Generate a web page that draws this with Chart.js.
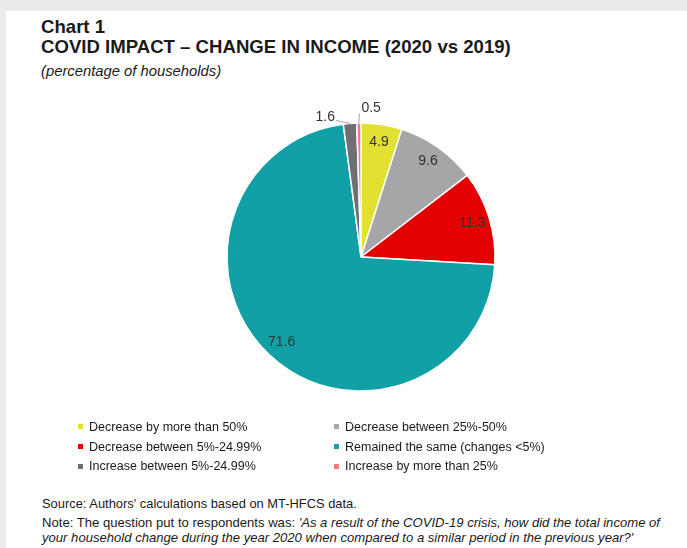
<!DOCTYPE html>
<html>
<head>
<meta charset="utf-8">
<script src="https://cdn.jsdelivr.net/npm/chart.js@4/dist/chart.umd.min.js"></script>
<style>
  html, body { margin: 0; padding: 0; }
  body { width: 687px; height: 548px; background: #ebebeb; position: relative; overflow: hidden;
         font-family: "Liberation Sans", Arial, sans-serif; color: #1a1a1a; }
  #panel { position: absolute; left: 6px; top: 11px; width: 700px; height: 560px; background: #fff; }
  .abs { position: absolute; white-space: nowrap; }
  #t1 { left: 41px; top: 17px; font-size: 18.6px; font-weight: bold; line-height: 20px; }
  #t2 { left: 41px; top: 63px; font-size: 14.8px; font-style: italic; }
  #pie { position: absolute; left: 181px; top: 77px; }
  #legend { position: absolute; left: 77px; top: 417px; display: grid;
            grid-template-columns: 256px 260px; grid-auto-rows: 19.8px; font-size: 12.5px; }
  #legend .item { display: flex; align-items: center; }
  #legend .box { width: 5px; height: 5px; margin: 0 6px 0 1px; flex: none; }
  #source { left: 42px; top: 496px; font-size: 12.9px; }
  #note { left: 42px; top: 515px; font-size: 13.1px; line-height: 15.3px; }
</style>
</head>
<body>
<div id="panel"></div>
<div id="t1" class="abs">Chart 1<br>COVID IMPACT &#8211; CHANGE IN INCOME (2020 vs 2019)</div>
<div id="t2" class="abs">(percentage of households)</div>
<canvas id="pie" width="360" height="360"></canvas>
<div id="legend"></div>
<div id="source" class="abs">Source: Authors' calculations based on MT-HFCS data.</div>
<div id="note" class="abs">Note: The question put to respondents was: <i>'As a result of the COVID-19 crisis, how did the total income of<br>your household change during the year 2020 when compared to a similar period in the previous year?'</i></div>
<script>
// data
const categories = [
    'Decrease by more than 50%',
    'Decrease between 25%-50%',
    'Decrease between 5%-24.99%',
    'Remained the same (changes <5%)',
    'Increase between 5%-24.99%',
    'Increase by more than 25%'
];
const shares = [4.9, 9.6, 11.3, 71.6, 1.6, 0.5];
const colors = ['#e1e033', '#a6a6a9', '#e30000', '#10a0a6', '#6e6f72', '#f47b7b'];

// labels drawn on / next to each slice
const sliceLabels = {
    id: 'sliceLabels',
    afterDatasetsDraw(chart) {
        const ctx = chart.ctx;
        const meta = chart.getDatasetMeta(0);
        ctx.save();
        ctx.font = '14px "Liberation Sans", Arial, sans-serif';
        ctx.fillStyle = '#333333';
        ctx.textBaseline = 'middle';
        meta.data.forEach(function(arc, i) {
            const p = arc.getProps(['x', 'y', 'startAngle', 'endAngle', 'outerRadius'], true);
            const mid = (p.startAngle + p.endAngle) / 2;
            const text = shares[i].toFixed(1);
            if (shares[i] >= 3) {
                const r = p.outerRadius * 0.87;
                ctx.textAlign = 'center';
                ctx.fillText(text, p.x + Math.cos(mid) * r, p.y + Math.sin(mid) * r);
            } else {
                // small slices: label outside with a leader line
                const ax = p.x + Math.cos(mid) * p.outerRadius;
                const ay = p.y + Math.sin(mid) * p.outerRadius;
                let lx, ly, tx, ty;
                if (i === 4) {
                    lx = ax - 14; ly = ay - 3;
                    tx = lx - 1; ty = ly - 3;
                    ctx.textAlign = 'right';
                } else {
                    lx = ax + 0.5; ly = ay - 9.5;
                    tx = lx + 2; ty = ly - 5;
                    ctx.textAlign = 'left';
                }
                ctx.strokeStyle = '#a6a6a6';
                ctx.lineWidth = 1;
                ctx.beginPath();
                ctx.moveTo(ax, ay);
                ctx.lineTo(lx, ly);
                ctx.stroke();
                ctx.fillText(text, tx, ty);
            }
        });
        ctx.restore();
    }
};

const pieCtx = document.getElementById('pie');
const chart = new Chart(pieCtx, {
    type: 'pie',
    data: {
        labels: categories,
        datasets: [{
            data: shares,
            backgroundColor: colors,
            borderColor: '#ffffff',
            borderWidth: 1.5
        }]
    },
    options: {
        responsive: false,
        animation: false,
        radius: 134,
        layout: { padding: 0 },
        plugins: {
            legend: { display: false },
            tooltip: { enabled: false }
        }
    },
    plugins: [sliceLabels]
});

// legend in two columns, built from the chart data
const legendEl = document.getElementById('legend');
chart.data.labels.forEach(function(label, i) {
    const item = document.createElement('div');
    item.className = 'item';
    const box = document.createElement('span');
    box.className = 'box';
    box.style.background = chart.data.datasets[0].backgroundColor[i];
    const txt = document.createElement('span');
    txt.textContent = label;
    item.appendChild(box);
    item.appendChild(txt);
    legendEl.appendChild(item);
});
</script>
</body>
</html>
